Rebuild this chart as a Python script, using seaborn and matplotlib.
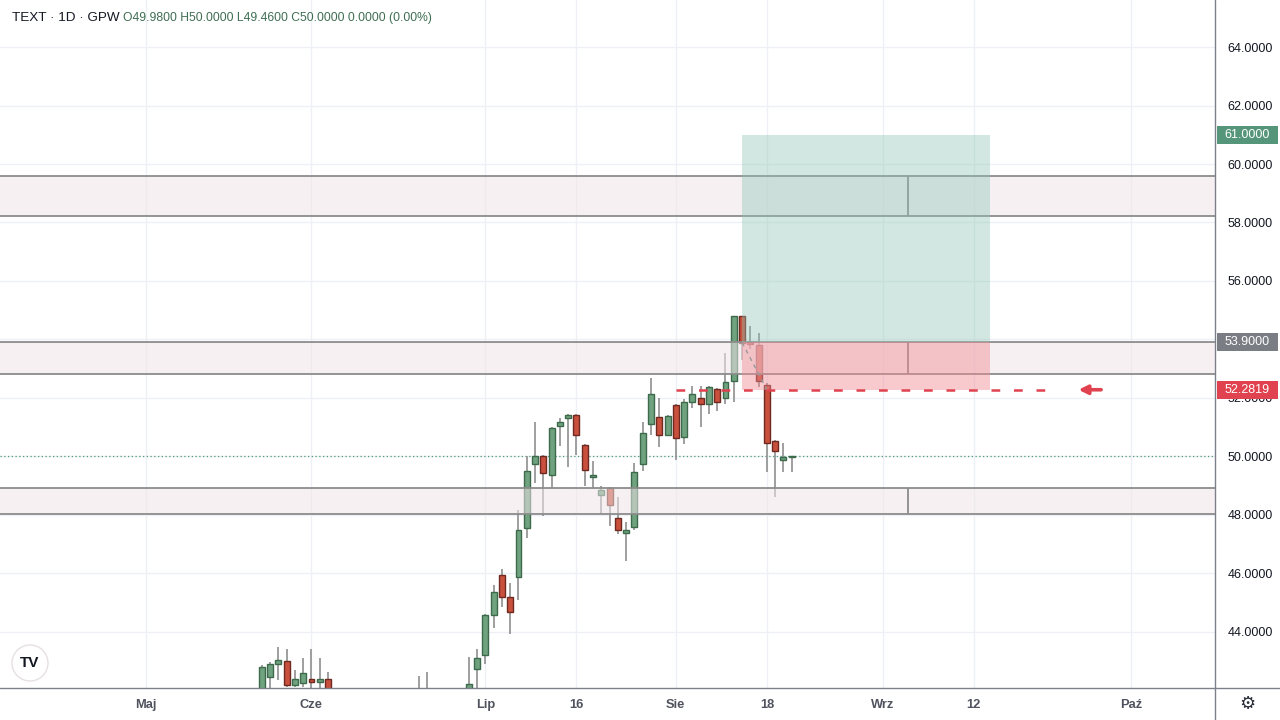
import numpy as np
import pandas as pd
import matplotlib
matplotlib.use("Agg")
import matplotlib.pyplot as plt
import seaborn as sns
from matplotlib.patches import Rectangle, Circle
from matplotlib.lines import Line2D

# bar index (0 = last session), OHLC
bar = [-64, -63, -62, -61, -60, -59, -58, -57, -56, -48, -46, -45, -44, -40,
       -39, -38, -37, -36, -35, -34, -33, -32, -31, -30, -29, -28, -27, -26,
       -25, -24, -23, -22, -21, -20, -19, -18, -17, -16, -15, -14, -13, -12,
       -11, -10, -9, -8, -7, -6, -5, -4, -3, -2, -1, 0]
open_ = [41.80, 42.47, 42.90, 43.02, 42.19, 42.25, 42.38, 42.29, 42.38, 41.90, 42.02, 41.90, 41.95, 41.90,
         41.95, 42.73, 43.21, 44.58, 45.96, 45.19, 45.87, 47.54, 49.74, 50.02, 49.37, 51.05, 51.30, 51.42,
         50.39, 49.29, 48.68, 48.91, 47.91, 47.40, 47.58, 49.74, 51.10, 51.34, 50.74, 51.75, 50.66, 51.87,
         51.99, 51.78, 52.30, 51.99, 52.59, 54.80, 53.90, 53.81, 52.44, 50.54, 49.88, 49.98]
high = [42.87, 42.96, 43.48, 43.42, 42.70, 43.12, 43.42, 43.10, 42.62, 42.04, 42.05, 42.50, 42.62, 42.04,
        43.14, 43.43, 44.60, 45.61, 46.14, 45.69, 48.17, 50.02, 51.19, 50.05, 51.00, 51.33, 51.45, 51.45,
        50.42, 49.86, 48.99, 48.95, 48.63, 47.77, 49.77, 51.19, 52.67, 51.99, 51.42, 51.78, 51.96, 52.41,
        52.41, 52.42, 52.33, 53.53, 54.82, 54.82, 54.46, 54.23, 52.50, 50.56, 50.45, 50.00]
low = [41.50, 41.90, 42.36, 42.13, 42.11, 42.13, 42.10, 42.00, 41.80, 41.80, 41.80, 41.70, 41.70, 41.80,
       41.90, 41.95, 42.90, 44.13, 44.84, 43.92, 45.09, 47.22, 49.10, 47.98, 48.91, 50.36, 49.65, 50.05,
       49.00, 48.91, 48.03, 47.63, 47.35, 46.43, 47.50, 49.51, 50.74, 50.34, 50.72, 49.88, 50.43, 51.65,
       51.00, 51.44, 51.57, 51.78, 51.87, 53.30, 53.66, 52.37, 49.46, 48.63, 49.46, 49.46]
close = [42.80, 42.90, 43.04, 42.19, 42.38, 42.59, 42.29, 42.38, 41.90, 41.95, 41.92, 41.95, 41.90, 41.95,
         42.21, 43.10, 44.58, 45.38, 45.19, 44.68, 47.49, 49.50, 50.02, 49.43, 50.96, 51.19, 51.42, 50.74,
         49.54, 49.37, 48.85, 48.34, 47.49, 47.49, 49.46, 50.81, 52.13, 50.74, 51.40, 50.64, 51.87, 52.14,
         51.79, 52.39, 51.86, 52.56, 54.80, 53.89, 53.84, 52.59, 50.47, 50.20, 49.99, 50.00]

# support / resistance zones (low, high)
zone_low = [58.23, 52.82, 48.02]
zone_high = [59.60, 53.90, 48.92]
zone_mark = 14.1

# long position tool
pos_start, pos_end = -6, 24
entry, target, stop = 53.90, 61.00, 52.2819
last_price = 50.00

tick_bar = [-78, -58, -37, -26, -14, -3, 11, 22, 41]
tick_text = ['Maj', 'Cze', 'Lip', '16', 'Sie', '18', 'Wrz', '12', 'Paź']
price_ticks = [44, 46, 48, 50, 52, 54, 56, 58, 60, 62, 64]

df = pd.DataFrame({'bar': bar, 'open': open_, 'high': high, 'low': low, 'close': close})
df['up'] = df['close'] >= df['open']
df['bottom'] = df[['open', 'close']].min(axis=1)
df['height'] = (df['close'] - df['open']).abs().clip(lower=0.04)

sns.set_theme(style='white')
plt.rcParams['font.family'] = ['Liberation Sans', 'DejaVu Sans']

GREEN, GREEN_EDGE = '#6fa27f', '#3c6a4b'
RED, RED_EDGE = '#c9503d', '#6e2a20'
TEXT = '#131722'
AXIS = '#7d808a'

fig = plt.figure(figsize=(12.8, 7.2), dpi=100)
ax = fig.add_axes([0, 32 / 720, 1215 / 1280, 688 / 720])
ax.set_xlim(-95.62, 51.12)
ax.set_ylim(42.085, 65.607)
px_per_price = 688 / (65.607 - 42.085)

# grid
for t in tick_bar:
    ax.axvline(t, color='#eef0f5', lw=1, zorder=0)
for p in price_ticks:
    ax.axhline(p, color='#eef0f5', lw=1, zorder=0)

# candles
ax.vlines(df['bar'], df['low'], df['high'], color='#8f8f8f', lw=1.2, zorder=2)
ax.bar(df['bar'], df['height'], bottom=df['bottom'], width=0.72,
       color=np.where(df['up'], GREEN, RED),
       edgecolor=np.where(df['up'], GREEN_EDGE, RED_EDGE), lw=1, zorder=3)

# zones
for lo, hi in zip(zone_low, zone_high):
    ax.axhspan(lo, hi, facecolor='#efe5e8', alpha=0.55, lw=0, zorder=4)
    ax.axhline(lo, color='#8c8c8c', lw=1.3, zorder=5)
    ax.axhline(hi, color='#8c8c8c', lw=1.3, zorder=5)
    ax.vlines(zone_mark, lo, hi, color='#8c8c8c', lw=1.3, zorder=5)

# position tool
ax.add_patch(Rectangle((pos_start, entry), pos_end - pos_start, target - entry,
                       facecolor='#8fc4b5', alpha=0.4, lw=0, zorder=6))
ax.add_patch(Rectangle((pos_start, stop), pos_end - pos_start, entry - stop,
                       facecolor='#f08a94', alpha=0.45, lw=0, zorder=6))
ax.plot([pos_start, -3], [entry, stop], color='#9a9a9a', lw=1, ls=(0, (3, 3)), zorder=7)

# last price and stop line
ax.axhline(last_price, color='#4c9c7c', lw=0.9, ls=(0, (1, 2)), zorder=1)
ax.hlines(stop, -14, 31, colors='#e0434f', lw=1.8, ls=(0, (3.5, 5.5)), zorder=8)
ax.annotate('', xy=(34.3, stop), xytext=(37.7, stop),
            arrowprops=dict(arrowstyle='-|>', color='#e0434f', lw=2.6, mutation_scale=13),
            zorder=8)

# axes; the 54 label sits under the entry price box, as on the original
for s in ax.spines.values():
    s.set_visible(False)
ax.yaxis.tick_right()
ax.set_yticks(price_ticks)
ax.set_yticklabels(['' if p == 54 else f'{p:.4f}' for p in price_ticks])
ax.set_xticks(tick_bar)
ax.set_xticklabels(tick_text)
ax.tick_params(axis='y', length=0, pad=9, labelsize=9, labelcolor=TEXT)
ax.tick_params(axis='x', length=0, pad=8, labelsize=9.3, labelcolor='#50535e')
for lab in ax.get_xticklabels():
    lab.set_fontweight('bold')

# axis price labels
box_h = 18 / px_per_price
for val, col in [(target, '#55957a'), (entry, '#7b7d85'), (stop, '#e0434f')]:
    ax.add_patch(Rectangle((1217 / 1215, val - box_h / 2), 61 / 1215, box_h,
                           transform=ax.get_yaxis_transform(), facecolor=col,
                           edgecolor='none', clip_on=False, zorder=10))
    ax.text(1247.5 / 1215, val, f'{val:.4f}', transform=ax.get_yaxis_transform(),
            ha='center', va='center', fontsize=9, color='white', zorder=11, clip_on=False)

# frame lines
fig.add_artist(Line2D([1215 / 1280, 1215 / 1280], [0, 1], color=AXIS, lw=1))
fig.add_artist(Line2D([0, 1], [32 / 720, 32 / 720], color=AXIS, lw=1))

# header
fig.text(12 / 1280, 1 - 18 / 720, 'TEXT · 1D · GPW', fontsize=9.7, color=TEXT, va='center')
fig.text(123 / 1280, 1 - 18 / 720,
         f'O{open_[-1]:.4f} H{high[-1]:.4f} L{low[-1]:.4f} C{close[-1]:.4f} 0.0000 (0.00%)',
         fontsize=8.7, color='#3f6e52', va='center')

# logo and gear
fig.add_artist(Circle((0.30, 0.57), 0.18, transform=fig.dpi_scale_trans,
                      facecolor='white', edgecolor='#e6e0e2', lw=1))
fig.text(30 / 1280, 1 - 663 / 720, 'TV', fontsize=11, fontweight='bold', color='#131722',
         ha='center', va='center')
fig.text(1247 / 1280, 1 - 704 / 720, '⚙', fontsize=13, color='#2a2e39', ha='center', va='center',
         family='DejaVu Sans')

fig.savefig('out.png', dpi=100)
